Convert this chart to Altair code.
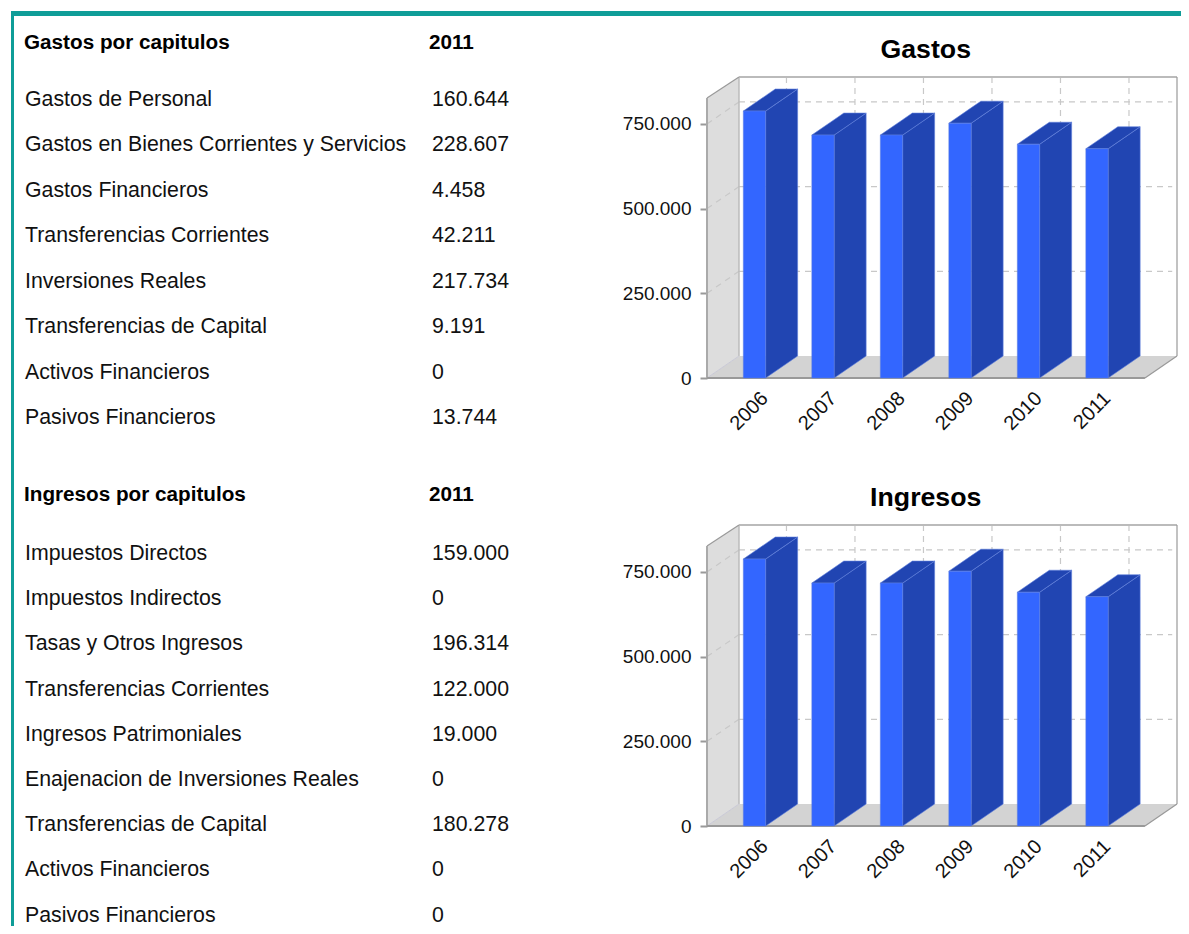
import altair as alt
import pandas as pd

FONT = "Liberation Sans"
years = [2006, 2007, 2008, 2009, 2010, 2011]
gastos_totales = [788000, 717000, 717000, 752000, 690000, 676589]
ingresos_totales = [788000, 717000, 717000, 752000, 690000, 676592]

gastos_labels = ["Gastos de Personal", "Gastos en Bienes Corrientes y Servicios", "Gastos Financieros",
                 "Transferencias Corrientes", "Inversiones Reales", "Transferencias de Capital",
                 "Activos Financieros", "Pasivos Financieros"]
gastos_values = ["160.644", "228.607", "4.458", "42.211", "217.734", "9.191", "0", "13.744"]
ingresos_labels = ["Impuestos Directos", "Impuestos Indirectos", "Tasas y Otros Ingresos",
                   "Transferencias Corrientes", "Ingresos Patrimoniales",
                   "Enajenacion de Inversiones Reales", "Transferencias de Capital",
                   "Activos Financieros", "Pasivos Financieros"]
ingresos_values = ["159.000", "0", "196.314", "122.000", "19.000", "0", "180.278", "0", "0"]

W, H = 1173, 918
X_DOMAIN = [2005.307, 2012.168]
X_RANGE = [699, 1169]
Y_MAX = 888400
FRONT_TOP = 826400
DX, DY = 0.467, 64935
BW = 0.326
X_END = 2011.70
TICKS = [0, 250000, 500000, 750000]
TEAL = "#0f9d98"


def panel_3d(values, title, base):
    """base: y in chart pixels of the front floor line."""
    yscale = alt.Scale(domain=[0, Y_MAX], range=[base, base - 301], nice=False, zero=False)
    xscale = alt.Scale(domain=X_DOMAIN, range=X_RANGE, nice=False, zero=False)

    def X(f="x", axis=None):
        return alt.X(f"{f}:Q", scale=xscale, axis=axis, title=None)

    def Y(f="y", axis=None):
        return alt.Y(f"{f}:Q", scale=yscale, axis=axis, title=None, stack=None)

    x0, x1 = X_DOMAIN
    xl = x0 + DX  # back wall left edge
    layers = []

    floor = pd.DataFrame({"x": [x0, xl, X_END, x1], "y": [0, 0, 0, DY], "y2": [0, DY, DY, DY]})
    layers.append(alt.Chart(floor).mark_area(fill="#d3d3d3", orient="vertical")
                  .encode(x=X(), y=Y(), y2="y2:Q"))
    wall = pd.DataFrame({"x": [x0, xl], "y": [0, DY], "y2": [FRONT_TOP, Y_MAX]})
    layers.append(alt.Chart(wall).mark_area(fill="#dddddd", orient="vertical")
                  .encode(x=X(), y=Y(), y2="y2:Q"))

    dash = [6, 5]
    hgrid = pd.DataFrame({"y": [t + DY for t in TICKS[1:]], "x": [xl] * 3, "x2": [x1 - 0.07] * 3})
    layers.append(alt.Chart(hgrid).mark_rule(color="#c8c8c8", strokeDash=dash, strokeWidth=1.2)
                  .encode(x=X(), x2="x2:Q", y=Y()))
    vgrid = pd.DataFrame({"x": [y + DX for y in years], "y": [Y_MAX] * 6, "y2": [DY] * 6})
    layers.append(alt.Chart(vgrid).mark_rule(color="#c8c8c8", strokeDash=dash, strokeWidth=1.2)
                  .encode(x=X(), y=Y(), y2="y2:Q"))
    diag = pd.DataFrame([{"x": a, "y": t + b, "t": t} for t in TICKS[1:] for a, b in ((x0, 0), (xl, DY))])
    layers.append(alt.Chart(diag).mark_line(color="#c8c8c8", strokeDash=dash, strokeWidth=1.2)
                  .encode(x=X(), y=Y(), detail="t:N"))

    def seg(pts, color, width):
        d = pd.DataFrame({"x": [p[0] for p in pts], "y": [p[1] for p in pts]})
        return alt.Chart(d).mark_line(color=color, strokeWidth=width).encode(x=X(), y=Y())

    layers += [
        seg([(xl, Y_MAX), (x1, Y_MAX)], "#bbbbbb", 2),
        seg([(x1, DY), (x1, Y_MAX)], "#999999", 1.2),
        seg([(xl, DY), (xl, Y_MAX)], "#bbbbbb", 1.5),
        seg([(x0, FRONT_TOP), (xl, Y_MAX)], "#999999", 1.2),
        seg([(x0, 0), (x0, FRONT_TOP)], "#aaaaaa", 2),
        seg([(x0, 0), (xl, DY)], "#c9c9d6", 1),
        seg([(x0, 0), (X_END, 0)], "#999999", 2),
        seg([(X_END, 0), (x1, DY)], "#999999", 1.2),
    ]

    side_rows, top_rows, front_rows = [], [], []
    frac = BW / DX
    for yr, v in zip(years, values):
        l, r = yr - BW / 2, yr + BW / 2
        front_rows.append({"x": l, "x2": r, "y": 0, "y2": v})
        side_rows += [{"x": r, "y": 0, "y2": v, "k": yr},
                      {"x": r + DX, "y": DY, "y2": v + DY, "k": yr}]
        top_rows += [{"x": l, "y": v, "y2": v, "k": yr},
                     {"x": r, "y": v, "y2": v + DY * frac, "k": yr},
                     {"x": l + DX, "y": v + DY * (1 - frac), "y2": v + DY, "k": yr},
                     {"x": r + DX, "y": v + DY, "y2": v + DY, "k": yr}]
    layers.append(alt.Chart(pd.DataFrame(side_rows))
                  .mark_area(fill="#2145b2", stroke="#5f7fdc", strokeWidth=0.6, orient="vertical")
                  .encode(x=X(), y=Y(), y2="y2:Q", detail="k:N"))
    layers.append(alt.Chart(pd.DataFrame(top_rows))
                  .mark_area(fill="#2145b2", stroke="#5f7fdc", strokeWidth=0.6, orient="vertical")
                  .encode(x=X(), y=Y(), y2="y2:Q", detail="k:N"))

    yaxis = alt.Axis(orient="left", values=TICKS, domain=False, grid=False, tickColor="#999999", tickSize=7,
                     tickWidth=2, labelFontSize=19, labelFont=FONT, labelColor="#111111", labelPadding=9,
                     labelExpr="replace(format(datum.value, ','), ',', '.')", offset=-X_RANGE[0])
    xaxis = alt.Axis(orient="bottom", values=years, domain=False, grid=False, ticks=False, format="d",
                     labelAngle=315, labelAlign="right", labelBaseline="middle", labelFontSize=20,
                     labelFont=FONT, labelColor="#111111", labelPadding=17, labelOffset=10,
                     labelOverlap=False, labelFlush=False, offset=-(H - base))
    layers.append(alt.Chart(pd.DataFrame(front_rows))
                  .mark_rect(fill="#3366ff", stroke="#5f7fdc", strokeWidth=0.5)
                  .encode(x=X(axis=xaxis), x2="x2:Q", y=Y(axis=yaxis), y2="y2:Q"))

    layers.append(alt.Chart(pd.DataFrame({"x": [2008.5], "t": [title]}))
                  .mark_text(font=FONT, fontSize=26.7, fontWeight="bold", color="#000000", baseline="middle")
                  .encode(x=X(), y=alt.value(base - 328.5), text="t:N"))
    return layers


def table(labels, values, head, y_head, y_first, y_last):
    yscale = alt.Scale(domain=[0, len(labels) - 1], range=[y_first, y_last], nice=False, zero=False)
    d = pd.DataFrame({"r": range(len(labels)), "l": labels, "v": values})
    base = alt.Chart(d).encode(y=alt.Y("r:Q", scale=yscale, axis=None, title=None))
    t = dict(font=FONT, fontSize=21.3, color="#111111", baseline="middle", align="left")
    h = dict(font=FONT, fontSize=20.7, fontWeight="bold", color="#000000", baseline="middle", align="left")
    hd = pd.DataFrame({"a": [head], "b": ["2011"]})
    return [
        base.mark_text(**t).encode(x=alt.value(17), text="l:N"),
        base.mark_text(**t).encode(x=alt.value(424), text="v:N"),
        alt.Chart(hd).mark_text(**h).encode(x=alt.value(16), y=alt.value(y_head), text="a:N"),
        alt.Chart(hd).mark_text(**h).encode(x=alt.value(421), y=alt.value(y_head), text="b:N"),
    ]


frame = alt.Chart(pd.DataFrame({"a": [1]}))
layers = [
    frame.mark_rect(fill=TEAL).encode(x=alt.value(3), x2=alt.value(W), y=alt.value(3), y2=alt.value(8)),
    frame.mark_rect(fill=TEAL).encode(x=alt.value(3), x2=alt.value(6), y=alt.value(3), y2=alt.value(H)),
]
layers += table(gastos_labels, gastos_values, "Gastos por capitulos", 34.5, 92, 410)
layers += table(ingresos_labels, ingresos_values, "Ingresos por capitulos", 486.5, 546, 907.5)
layers += panel_3d(gastos_totales, "Gastos", 370)
layers += panel_3d(ingresos_totales, "Ingresos", 818)

chart = (
    alt.layer(*layers)
    .resolve_scale(x="independent", y="independent")
    .properties(width=W, height=H, padding=0, autosize=alt.AutoSizeParams(type="none"), background="white")
    .configure_view(stroke=None)
)
chart.save("out.html", embed_options={"renderer": "svg", "actions": False})
